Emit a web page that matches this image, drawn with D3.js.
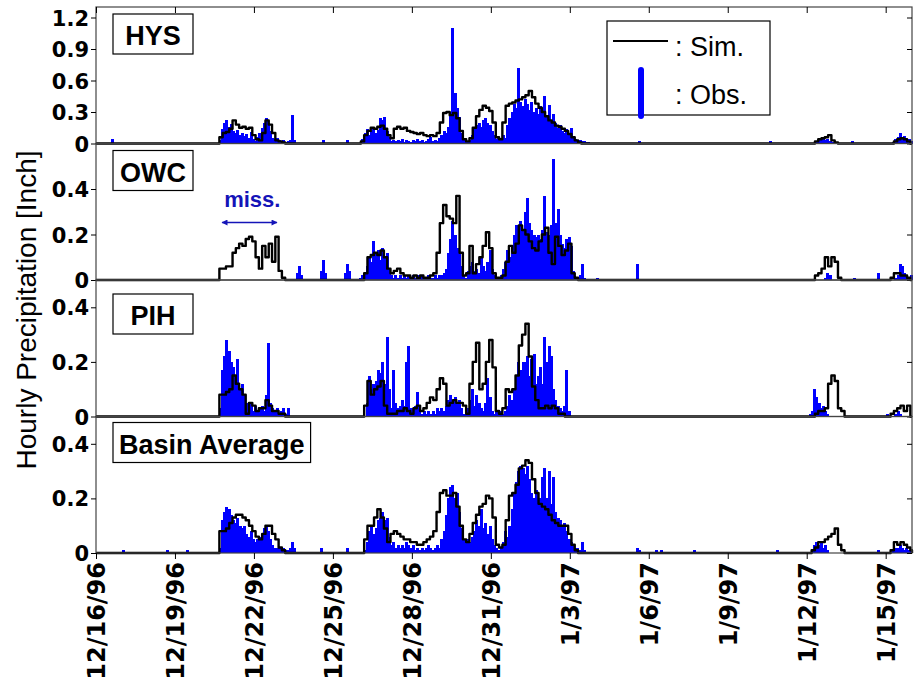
<!DOCTYPE html>
<html>
<head>
<meta charset="utf-8">
<script src="https://cdn.jsdelivr.net/npm/d3@7"></script>
<style>
  body { margin: 0; background: #fff; }
  svg { display: block; font-family: "Liberation Sans", Arial, Helvetica, sans-serif; }
</style>
</head>
<body>
<svg id="chart" width="920" height="680"></svg>
<script>
// ---- data (hours counted from 12/16/96 00:00) ----
var stations = ['HYS', 'OWC', 'PIH', 'Basin Average'];
var yMax = [1.3, 0.6, 0.5, 0.5];
var yTicks = [[0, 0.3, 0.6, 0.9, 1.2], [0, 0.2, 0.4], [0, 0.2, 0.4], [0, 0.2, 0.4]];
var dateTicks = ['12/16/96', '12/19/96', '12/22/96', '12/25/96', '12/28/96', '12/31/96',
                 '1/3/97', '1/6/97', '1/9/97', '1/12/97', '1/15/97'];
var startDate = '12/16/96', endDate = '1/16/97';
var obsStep = 2, simStep = 3;   // hours per value
var missHours = [115, 165];     // OWC gauge missing

// segments: [start hour, values...]
var hysObs = [
  [14, [0.04]],
  [110, [0,0.03,0.14,0.2,0.22,0.16,0.19,0.12,0.1,0.13,0.08,0.1,0.07,0.09,0.05,0.11,0.04,0.02,
         0.06,0.1,0.15,0.2,0.24,0.18,0.12,0.05,0.04,0.05,0.03,0.02,0.03,0.01,0.02,0.03,0.27,0.03]],
  [206, [0.03]],
  [228, [0.03]],
  [238, [0,0,0.04,0.1,0.14,0.08,0.12,0.16,0.1,0.13,
         0.24,0.22,0.25,0.12,0.06,0.02,0.03,0.02,0.03,0.02,
         0.04,0.01,0.03,0.02,0.01,0.03,0.02,0.04,0.02,0.03,
         0.01,0.02,0.04,0.06,0.02,0.03,0.02,0.05,0.08,0.12,
         0.1,0.16,0.3,1.1,0.48,0.34,0.25,0.1,0.04,0.02,
         0.02,0.03,0.08,0.14,0.18,0.2,0.16,0.22,0.24,0.2,
         0.18,0.12,0.08,0.04,0.06,0.03,0.08,0.05,0.18,0.24,
         0.3,0.38,0.34,0.72,0.4,0.36,0.42,0.38,0.32,0.4,
         0.3,0.34,0.28,0.36,0.3,0.45,0.26,0.37,0.22,0.28,
         0.2,0.15,0.18,0.12,0.1,0.14,0.08,0.15,0.06,0.04,
         0.02,0.03,0.02,0.02,0.01,0.01]],
  [494, [0.02]],
  [614, [0.02]],
  [656, [0.01,0.03,0.04,0.05,0.03,0.04,0.02,0.01]],
  [688, [0.02]],
  [724, [0,0.01,0.04,0.06,0.1,0.05,0.07,0.03,0.04,0.02]]
];
var hysSim = [
  [111, [0,0.06,0.1,0.11,0.14,0.22,0.18,0.15,0.16,0.14,0.15,0.08,0.04,0.03,0.1,0.22,0.18,0.1,0.03,0.02,0.01,0,0]],
  [240, [0,0.02,0.08,0.12,0.15,0.14,0.16,0.17,0.14,0.08,
         0.05,0.14,0.16,0.14,0.15,0.12,0.11,0.1,0.09,0.1,
         0.08,0.07,0.08,0.07,0.1,0.2,0.29,0.3,0.27,0.29,
         0.24,0.12,0.04,0.02,0.05,0.15,0.26,0.32,0.36,0.34,
         0.31,0.2,0.06,0.04,0.2,0.36,0.38,0.39,0.41,0.42,
         0.44,0.46,0.5,0.44,0.38,0.34,0.3,0.26,0.22,0.2,
         0.17,0.16,0.14,0.12,0.09,0.06,0.03,0.01,0,0]],
  [654, [0,0.02,0.04,0.05,0.06,0.08,0.03,0.01,0]],
  [723, [0,0,0.02,0.04,0.05,0.04,0.02,0]]
];

var owcObs = [
  [182, [0.03,0.06,0.02]],
  [204, [0.04,0.09,0.03]],
  [226, [0.03,0.07,0.04]],
  [238, [0,0.01,0.02,0.03,0.06,0.1,0.08,0.17,0.12,0.13,
         0.09,0.14,0.1,0.12,0.05,0.02,0.01,0.02,0.01,0.02,
         0.01,0.02,0.01,0.02,0.01,0.02,0.01,0.02,0.01,0.02,
         0.01,0.01,0.02,0.01,0.01,0.02,0.01,0.02,0.02,0.03,
         0.05,0.12,0.18,0.26,0.2,0.14,0.12,0.06,0.02,0.01,
         0.04,0.06,0.08,0.04,0.05,0.03,0.1,0.06,0.04,0.08,
         0.13,0.05,0.02,0.01,0.01,0.02,0.05,0.08,0.13,0.1,
         0.12,0.2,0.24,0.2,0.26,0.22,0.3,0.36,0.25,0.22,
         0.2,0.19,0.2,0.18,0.22,0.37,0.21,0.2,0.24,0.53,
         0.25,0.31,0.2,0.16,0.14,0.18,0.19,0.15,0.04,0.01,
         0,0.02,0.07,0.01,0,0]],
  [456, [0.01]],
  [492, [0.07]],
  [664, [0.01,0.03,0.02]],
  [690, [0.01]],
  [712, [0.03]],
  [728, [0.01,0.02,0.07,0.06,0.03,0.02,0.01,0.02]]
];
var owcSim = [
  [111, [0,0.05,0.05,0.06,0.06,0.12,0.14,0.16,0.15,0.18,0.19,0.17,0.1,0.05,0.15,0.1,0.16,0.08,0.19,0.04,0.01,0,0]],
  [240, [0,0,0.03,0.1,0.11,0.12,0.11,0.13,0.1,0.05,
         0.03,0.04,0.05,0.03,0.02,0.02,0.01,0.02,0.01,0.02,
         0.01,0.01,0.02,0.03,0.12,0.25,0.33,0.28,0.27,0.25,
         0.37,0.12,0.02,0.03,0.15,0.03,0.07,0.1,0.15,0.21,
         0.14,0.03,0.01,0.01,0.02,0.08,0.15,0.12,0.16,0.24,
         0.22,0.2,0.17,0.14,0.13,0.17,0.2,0.23,0.12,0.07,
         0.19,0.15,0.11,0.13,0.16,0.03,0.01,0,0,0]],
  [654, [0,0.02,0.03,0.05,0.1,0.06,0.1,0.08,0.01,0]],
  [723, [0,0.01,0.03,0.03,0.02,0.02,0.01,0]]
];

var pihObs = [
  [110, [0,0.03,0.17,0.22,0.28,0.24,0.2,0.18,0.14,0.21,0.1,0.12,0.08,0.05,0.03,0.05,0.02,0.04,
         0.02,0.03,0.04,0.02,0.08,0.27,0.05,0.03,0.02,0.03,0.01,0.02,0.03,0.01,0.03,0,0,0]],
  [238, [0,0,0,0,0.05,0.15,0.1,0.12,0.13,0.17,
         0.16,0.2,0.12,0.29,0.1,0.03,0.17,0.05,0.03,0.04,
         0.06,0.04,0.2,0.26,0.03,0.02,0.04,0.09,0.02,0.01,
         0.02,0.01,0.02,0.01,0.02,0.01,0.03,0.02,0.03,0.02,
         0.04,0.06,0.08,0.06,0.07,0.05,0.06,0.03,0.01,0.02,
         0.03,0.06,0.1,0.04,0.08,0.05,0.03,0.02,0.05,0.14,
         0.07,0.02,0.01,0.02,0.01,0.02,0.01,0.02,0.04,0.08,
         0.06,0.1,0.15,0.2,0.17,0.2,0.2,0.22,0.15,0.21,
         0.23,0.12,0.15,0.18,0.12,0.29,0.2,0.26,0.22,0.1,
         0.06,0.04,0.03,0.02,0.04,0.17,0.02,0,0,0,
         0,0,0,0,0,0]],
  [650, [0.01,0.02,0.1,0.07,0.05,0.03,0.04,0.02,0.01]],
  [720, [0.01,0,0,0,0.01,0.02,0.01]]
];
var pihSim = [
  [111, [0,0.08,0.08,0.09,0.1,0.15,0.12,0.1,0.08,0.01,0.05,0.04,0.02,0.03,0.03,0.06,0.04,0.02,0.02,0.01,0.01,0,0]],
  [240, [0,0,0.04,0.13,0.08,0.1,0.11,0.13,0.04,0.01,
         0.01,0.01,0.02,0.02,0.03,0.02,0.01,0.03,0.04,0.02,
         0.03,0.05,0.07,0.06,0.1,0.14,0.12,0.04,0.05,0.06,
         0.05,0.05,0.04,0.01,0.12,0.2,0.27,0.1,0.12,0.2,
         0.28,0.18,0.02,0.01,0.03,0.1,0.09,0.1,0.15,0.26,
         0.3,0.34,0.22,0.11,0.06,0.03,0.03,0.04,0.03,0.04,
         0.03,0.01,0.01,0,0,0,0,0,0,0]],
  [654, [0,0.01,0.02,0.02,0.03,0.12,0.15,0.13,0.03,0.02,0]],
  [723, [0,0.01,0.02,0.03,0.04,0.02,0.04,0]]
];

var basinObs = [
  [24, [0.01]], [64, [0.01]], [82, [0.01]],
  [110, [0,0.02,0.12,0.15,0.17,0.16,0.14,0.12,0.11,0.13,0.1,0.09,0.1,0.07,0.06,0.08,0.05,0.04,
         0.05,0.06,0.07,0.09,0.1,0.08,0.05,0.03,0.02,0.02,0.02,0.01,0.02,0.01,0.01,0.02,0.04,0.02]],
  [204, [0.02]], [228, [0.02]],
  [238, [0,0,0,0.01,0.04,0.08,0.1,0.07,0.09,0.12,
         0.13,0.15,0.12,0.13,0.06,0.03,0.04,0.02,0.03,0.02,
         0.03,0.02,0.04,0.03,0.02,0.03,0.01,0.02,0.01,0.02,
         0.01,0.02,0.03,0.02,0.01,0.02,0.03,0.02,0.05,0.08,
         0.14,0.2,0.24,0.25,0.2,0.22,0.15,0.09,0.05,0.04,
         0.05,0.04,0.06,0.08,0.12,0.1,0.16,0.09,0.11,0.07,
         0.1,0.05,0.03,0.02,0.01,0.02,0.04,0.08,0.06,0.1,
         0.16,0.22,0.26,0.3,0.32,0.31,0.29,0.32,0.27,0.22,
         0.2,0.23,0.18,0.2,0.28,0.31,0.2,0.3,0.18,0.28,
         0.15,0.13,0.12,0.1,0.11,0.08,0.05,0.04,0.03,0.02,
         0.02,0.01,0.04,0.01,0,0]],
  [492, [0.02,0.01]], [510, [0.01,0,0.01]], [544, [0.01]], [620, [0.01]],
  [652, [0.01,0.03,0.04,0.03,0.04,0.02,0.03,0.01]],
  [712, [0.01]],
  [726, [0.01,0.02,0.02,0.03,0.02,0.01,0.02,0.01]]
];
var basinSim = [
  [111, [0,0.08,0.08,0.09,0.11,0.13,0.14,0.14,0.13,0.12,0.1,0.08,0.06,0.05,0.07,0.1,0.1,0.07,0.05,0.02,0.01,0,0]],
  [240, [0,0,0.05,0.1,0.1,0.13,0.16,0.13,0.09,0.04,
         0.07,0.08,0.07,0.06,0.05,0.05,0.04,0.04,0.03,0.03,
         0.04,0.05,0.06,0.08,0.15,0.22,0.23,0.21,0.21,0.22,
         0.17,0.1,0.05,0.04,0.07,0.11,0.14,0.17,0.18,0.21,
         0.2,0.13,0.03,0.02,0.03,0.12,0.21,0.22,0.25,0.31,
         0.32,0.34,0.33,0.27,0.22,0.18,0.17,0.16,0.14,0.12,
         0.11,0.1,0.1,0.1,0.07,0.03,0.01,0,0,0]],
  [651, [0,0.01,0.02,0.04,0.04,0.05,0.06,0.07,0.09,0.03,0.01,0]],
  [723, [0,0.01,0.04,0.03,0.04,0.03,0.02,0.01]]
];

var obsSeries = [hysObs, owcObs, pihObs, basinObs];
var simSeries = [hysSim, owcSim, pihSim, basinSim];

// ---- layout ----
var W = 920, H = 680;
var margin = {top: 7, right: 8, bottom: 127, left: 96};
var panelH = (H - margin.top - margin.bottom) / stations.length;
var labelTop = [7, 7, 14, 6];
var obsColor = '#0000ff';

var svg = d3.select('#chart');
var parseDate = d3.utcParse('%m/%d/%y');
var t0 = parseDate(startDate), t1 = parseDate(endDate);
var totalHours = (t1 - t0) / 36e5;
var x = d3.scaleUtc().domain([t0, t1]).range([margin.left, W - margin.right]);
function xh(h) { return x(d3.utcHour.offset(t0, h)); }
var tickDates = dateTicks.map(parseDate);

function barsOf(segs) {
    var out = [];
    segs.forEach(function(s) {
        s[1].forEach(function(v, k) { if (v > 0) out.push([s[0] + k * obsStep, v]); });
    });
    return out;
}
function pointsOf(segs) {
    var pts = [[0, 0]];
    segs.forEach(function(s) {
        s[1].forEach(function(v, k) { pts.push([s[0] + k * simStep, v]); });
    });
    pts.push([totalHours, 0]);
    return pts;
}
var fmt = function(d) { return d === 0 ? '0' : d3.format('.1f')(d); };

stations.forEach(function(name, i) {
    var g = svg.append('g')
        .attr('transform', 'translate(0,' + (margin.top + i * panelH) + ')');
    var y = d3.scaleLinear().domain([0, yMax[i]]).range([panelH, 0]);

    g.append('g').attr('shape-rendering', 'crispEdges').selectAll('rect')
        .data(barsOf(obsSeries[i]))
        .enter().append('rect')
        .attr('x', function(d) { return xh(d[0]); })
        .attr('width', function(d) { return xh(d[0] + obsStep) - xh(d[0]) + 0.8; })
        .attr('y', function(d) { return y(d[1]); })
        .attr('height', function(d) { return panelH - y(d[1]); })
        .attr('fill', obsColor);

    var line = d3.line()
        .curve(d3.curveStep)
        .x(function(d) { return xh(d[0]); })
        .y(function(d) { return y(d[1]); });
    g.append('path')
        .attr('d', line(pointsOf(simSeries[i])))
        .attr('fill', 'none')
        .attr('stroke', '#000')
        .attr('stroke-width', 2.4)
        .attr('stroke-linejoin', 'round');

    g.append('rect')
        .attr('x', margin.left).attr('y', 0)
        .attr('width', W - margin.left - margin.right).attr('height', panelH)
        .attr('fill', 'none').attr('stroke', '#444').attr('stroke-width', 1.2);

    var ay = g.append('g')
        .attr('transform', 'translate(' + margin.left + ',0)')
        .call(d3.axisLeft(y).tickValues(yTicks[i]).tickSize(5).tickPadding(2).tickFormat(fmt));
    ay.select('.domain').remove();
    ay.selectAll('text')
        .attr('dy', '0.36em')
        .style('font-family', '"DejaVu Sans", sans-serif')
        .style('font-weight', 'bold')
        .style('font-size', '21px')
        .attr('fill', '#000');

    var ar = g.append('g')
        .attr('transform', 'translate(' + (W - margin.right) + ',0)')
        .call(d3.axisLeft(y).tickValues(yTicks[i]).tickSize(5).tickFormat(''));
    ar.select('.domain').remove();

    if (i === 0) {
        var at = g.append('g')
            .call(d3.axisBottom(x).tickValues(tickDates).tickSize(6).tickFormat(''));
        at.select('.domain').remove();
    }
    if (i === stations.length - 1) {
        var ab = g.append('g')
            .attr('transform', 'translate(0,' + panelH + ')')
            .call(d3.axisBottom(x).tickValues(tickDates).tickSize(6)
                  .tickFormat(function(d, k) { return dateTicks[k]; }));
        ab.select('.domain').remove();
        ab.selectAll('text')
            .attr('y', 0).attr('x', -9).attr('dy', '0.36em')
            .attr('transform', 'rotate(-90)')
            .style('text-anchor', 'end')
            .style('font-family', '"DejaVu Sans", sans-serif')
            .style('font-weight', 'bold')
            .style('font-size', '24px')
            .attr('fill', '#000');
    }

    // station label box
    var lb = g.append('g').attr('transform', 'translate(113,' + labelTop[i] + ')');
    var box = lb.append('rect').attr('height', 40)
        .attr('fill', '#fff').attr('stroke', '#000').attr('stroke-width', 1.2);
    var txt = lb.append('text').attr('y', 31)
        .style('font-weight', 'bold').style('font-size', '27px')
        .text(name);
    var tw = txt.node().getComputedTextLength();
    var bw = Math.max(80, tw + 12);
    box.attr('width', bw);
    txt.attr('x', (bw - tw) / 2);

    if (i === 0) {
        var lg = g.append('g').attr('transform', 'translate(607,14)');
        lg.append('rect').attr('width', 163).attr('height', 94)
            .attr('fill', '#fff').attr('stroke', '#000').attr('stroke-width', 1.2);
        lg.append('line').attr('x1', 6).attr('x2', 61).attr('y1', 20).attr('y2', 20)
            .attr('stroke', '#000').attr('stroke-width', 2);
        lg.append('line').attr('x1', 34).attr('x2', 34).attr('y1', 49).attr('y2', 95)
            .attr('stroke', obsColor).attr('stroke-width', 6).attr('stroke-linecap', 'round');
        lg.append('text').attr('x', 68).attr('y', 35).style('font-size', '27px').text(': Sim.');
        lg.append('text').attr('x', 68).attr('y', 83).style('font-size', '27px').text(': Obs.');
    }

    if (name === 'OWC') {
        var missColor = '#1414b8';
        var defs = svg.append('defs');
        defs.append('marker').attr('id', 'ah').attr('viewBox', '0 0 10 10')
            .attr('refX', 9).attr('refY', 5).attr('markerWidth', 7).attr('markerHeight', 6)
            .attr('orient', 'auto-start-reverse').attr('markerUnits', 'userSpaceOnUse')
            .append('path').attr('d', 'M0,0L10,5L0,10Z').attr('fill', missColor);
        g.append('line')
            .attr('x1', xh(missHours[0])).attr('x2', xh(missHours[1]))
            .attr('y1', 79).attr('y2', 79)
            .attr('stroke', missColor).attr('stroke-width', 1.5)
            .attr('marker-start', 'url(#ah)').attr('marker-end', 'url(#ah)');
        g.append('text')
            .attr('x', xh(missHours[0]) + 2).attr('y', 63)
            .style('font-weight', 'bold').style('font-size', '22px')
            .attr('fill', missColor).text('miss.');
    }
});

svg.append('text')
    .attr('transform', 'translate(36,' + 310 + ') rotate(-90)')
    .style('text-anchor', 'middle')
    .style('font-size', '28px')
    .text('Hourly Precipitation [Inch]');
</script>
</body>
</html>
